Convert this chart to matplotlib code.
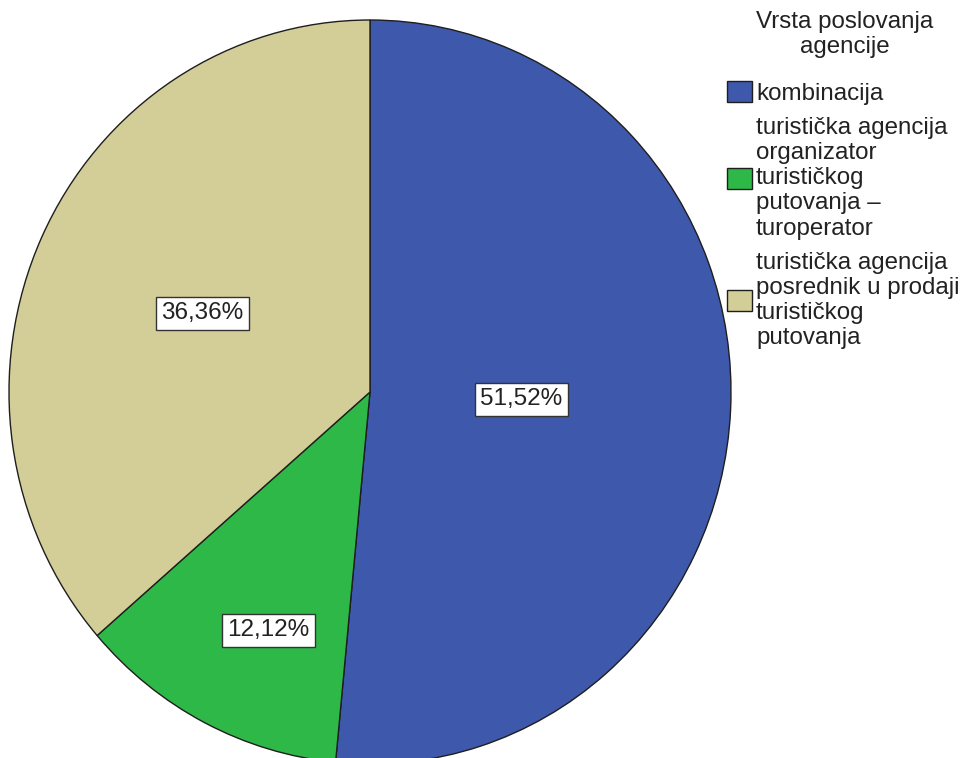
import numpy as np
import matplotlib
matplotlib.use('Agg')
import matplotlib.pyplot as plt

plt.rcParams['font.family'] = ['Liberation Sans', 'DejaVu Sans']

# data
categories = ['kombinacija',
              'turistička agencija\norganizator\nturističkog\nputovanja –\nturoperator',
              'turistička agencija\nposrednik u prodaji\nturističkog\nputovanja']
shares = [51.52, 12.12, 36.36]
colors = ['#3e58ac', '#2eb848', '#d3ce97']
legend_title = 'Vrsta poslovanja\nagencije'

# label placement per wedge (radius, angle tweak in degrees)
label_r = [0.42, 0.70, 0.51]
label_dang = [0, 3.6, 0]

W, H, DPI = 966, 758, 100
fig = plt.figure(figsize=(W / DPI, H / DPI), dpi=DPI)

# pie is slightly taller than wide in the reference
cx, cy, rx, ry = 370, 392, 361, 372
ax = fig.add_axes([(cx - rx) / W, (H - cy - ry) / H, 2 * rx / W, 2 * ry / H])

wedges, _ = ax.pie(shares, colors=colors, startangle=90, counterclock=False,
                   radius=1.0,
                   wedgeprops=dict(edgecolor='#1e1e1e', linewidth=1.0))
ax.set_aspect('auto')
ax.set_xlim(-1, 1)
ax.set_ylim(-1, 1)
ax.axis('off')

for w, v, r, da in zip(wedges, shares, label_r, label_dang):
    ang = np.deg2rad((w.theta1 + w.theta2) / 2 + da)
    ax.text(r * np.cos(ang), r * np.sin(ang), f'{v:.2f}%'.replace('.', ','),
            ha='center', va='center', fontsize=17.5, color='#222222',
            bbox=dict(boxstyle='square,pad=0.22', facecolor='white',
                      edgecolor='#333333', linewidth=1.0))

fig.text(845 / W, 1 - 11 / H, legend_title, ha='center', va='top',
         fontsize=17.4, color='#222222', linespacing=1.17,
         multialignment='center')

leg = fig.legend(wedges, categories,
                 loc='upper left', bbox_to_anchor=(727 / W, 1 - 81 / H),
                 frameon=False, fontsize=17.4,
                 borderpad=0, borderaxespad=0, handlelength=1.05,
                 handleheight=0.93, handletextpad=0.15, labelspacing=0.5)
for t in leg.get_texts():
    t.set_linespacing(1.19)
    t.set_color('#222222')
for p in leg.get_patches():
    p.set_edgecolor('#1e1e1e')
    p.set_linewidth(1.0)

fig.savefig('out.png', dpi=DPI)
